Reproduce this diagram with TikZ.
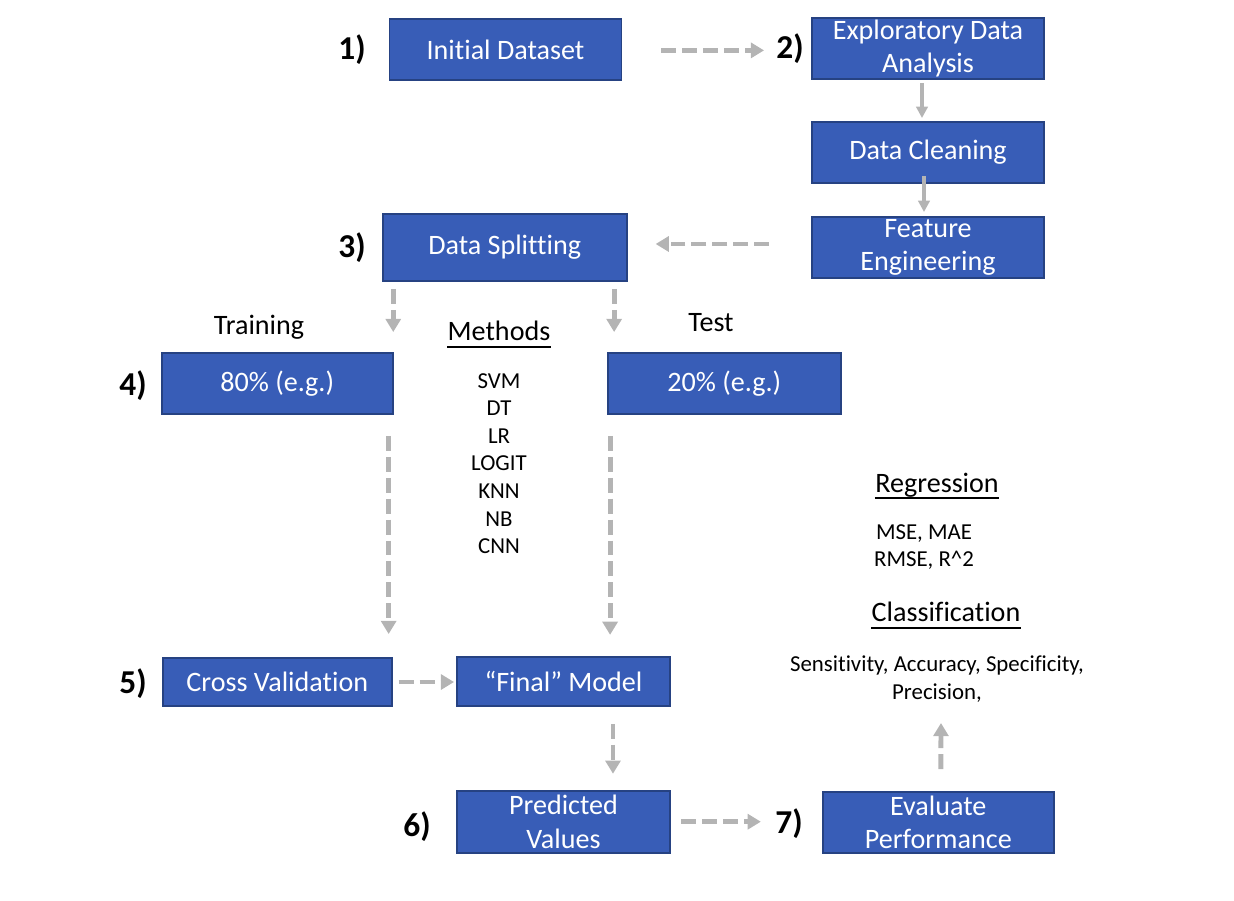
\documentclass[tikz,border=0pt]{standalone}
\usepackage{fontspec}
\setmainfont{Carlito}[Ligatures=NoCommon, RawFeature={-liga;-clig;-dlig}]
\usetikzlibrary{arrows.meta}
\definecolor{boxfill}{RGB}{56,93,183}
\definecolor{boxline}{RGB}{38,66,130}
\definecolor{arrgray}{RGB}{180,180,180}
\tikzset{
  box/.style={draw=boxline, fill=boxfill, line width=1.1pt, text=white,
    font=\fontsize{16}{19}\selectfont, align=center, inner sep=0pt},
  num/.style={font=\fontsize{19}{22}\selectfont\bfseries, inner sep=0pt},
  lbl/.style={font=\fontsize{16}{19}\selectfont, inner sep=0pt, align=center},
  small/.style={font=\fontsize{13}{15.7}\selectfont, inner sep=0pt, align=center},
  uline/.style={line width=1.1pt},
  darrow/.style={draw=arrgray, line width=2.8pt, dash pattern=on 8.5pt off 3.4pt,
    -{Triangle[length=7.5pt,width=8.5pt]}},
  sarrow/.style={draw=arrgray, line width=2.3pt,
    -{Triangle[length=6.5pt,width=6.5pt]}},
}
\begin{document}
\begin{tikzpicture}[x=0.02cm, y=-0.02cm]
\useasboundingbox (0,0) rectangle (1234,900);

% boxes
\node[box, minimum width=4.64cm, minimum height=1.22cm] (init)  at (505.5,49.5) {Initial Dataset};
\node[box, minimum width=4.64cm, minimum height=1.22cm] (eda)   at (928,48.5) {Exploratory Data\\Analysis};
\node[box, minimum width=4.64cm, minimum height=1.22cm] (clean) at (928,152.5) {Data Cleaning};
\node[box, minimum width=4.64cm, minimum height=1.22cm] (feat)  at (928,247.5) {Feature\\Engineering};
\node[box, minimum width=4.88cm, minimum height=1.34cm] (split) at (504.7,247.5) {Data Splitting};
\node[box, minimum width=4.62cm, minimum height=1.22cm] (train) at (277.2,383.5) {80\% (e.g.)};
\node[box, minimum width=4.65cm, minimum height=1.22cm] (test)  at (724.3,383.5) {20\% (e.g.)};
\node[box, minimum width=4.58cm, minimum height=0.96cm] (cv)    at (277.3,682) {Cross Validation};
\node[box, minimum width=4.26cm, minimum height=0.98cm] (final) at (563.5,681.3) {“Final” Model};
\node[box, minimum width=4.26cm, minimum height=1.24cm] (pred)  at (563.5,821.7) {Predicted\\Values};
\node[box, minimum width=4.62cm, minimum height=1.22cm] (eval)  at (938.3,822.5) {Evaluate\\Performance};

% step numbers
\node[num] (n1) at (352,50) {1)};
\node[num] (n2) at (790,49) {2)};
\node[num] (n3) at (352,248) {3)};
\node[num] (n4) at (133,386) {4)};
\node[num] (n5) at (133,684) {5)};
\node[num] (n6) at (417,827) {6)};
\node[num] (n7) at (789,824) {7)};

% labels
\node[lbl] (training) at (259,327) {Training};
\node[lbl] (testlbl) at (711,323) {Test};
\node[lbl] (methods) at (499,331) {Methods};
\draw[uline] ([yshift=-3.4pt]methods.base west) -- ([yshift=-3.4pt]methods.base east);
\node[small] (mlist) at (499,463.5) {SVM\\DT\\LR\\LOGIT\\KNN\\NB\\CNN};

\node[lbl] (regr) at (937,485) {Regression};
\draw[uline] ([yshift=-3.4pt]regr.base west) -- ([yshift=-3.4pt]regr.base east);
\node[small] (rmet) at (924,547) {MSE, MAE\\RMSE, R\textasciicircum 2};
\node[lbl] (classif) at (946,612) {Classification};
\draw[uline] ([yshift=-3.4pt]classif.base west) -- ([yshift=-3.4pt]classif.base east);
\node[small] (cmet) at (937,679) {Sensitivity, Accuracy, Specificity,\\Precision,};

\coordinate (evaltip) at (941,723);

% connectors
\draw[darrow, shorten <=0.78cm, shorten >=0.94cm] ([yshift=-0.5pt]init.east) -- ([yshift=-0.5pt]init.east -| eda.west);
\draw[sarrow, shorten <=0.06cm, shorten >=0.06cm] ([xshift=-0.12cm]eda.south) -- ([xshift=-0.12cm]clean.north);
\draw[sarrow, shorten <=-0.16cm, shorten >=0.08cm] ([xshift=-0.08cm]clean.south) -- ([xshift=-0.08cm]feat.north);
\draw[darrow, shorten <=0.84cm, shorten >=0.56cm] ([yshift=2pt]feat.west) -- ([yshift=2pt]split.east);
\draw[darrow, shorten <=0.14cm, shorten >=0.40cm] ([xshift=0.23cm]split.south west) -- ([xshift=0.23cm]split.south west |- train.north);
\draw[darrow, shorten <=0.14cm, shorten >=0.40cm] ([xshift=-0.27cm]split.south east) -- ([xshift=-0.27cm]split.south east |- test.north);
\draw[darrow, shorten <=0.42cm, shorten >=0.46cm] ([xshift=-0.1cm]train.south east) -- ([xshift=-0.1cm]train.south east |- cv.north);
\draw[darrow, shorten <=0.42cm, shorten >=0.42cm] ([xshift=0.06cm]test.south west) -- ([xshift=0.06cm]test.south west |- final.north);
\draw[darrow, shorten <=0.12cm, shorten >=0.04cm] (cv.east) -- (cv.east -| final.west);
\draw[darrow, shorten <=0.34cm, shorten >=0.32cm] ([xshift=0.99cm]final.south) -- ([xshift=0.99cm]pred.north);
\draw[darrow, shorten <=0.21cm, shorten >=1.22cm] (pred.east) -- (pred.east -| eval.west);
\draw[darrow, shorten <=0.44cm] ([xshift=0.05cm]eval.north) -- (evaltip);
\end{tikzpicture}
\end{document}
